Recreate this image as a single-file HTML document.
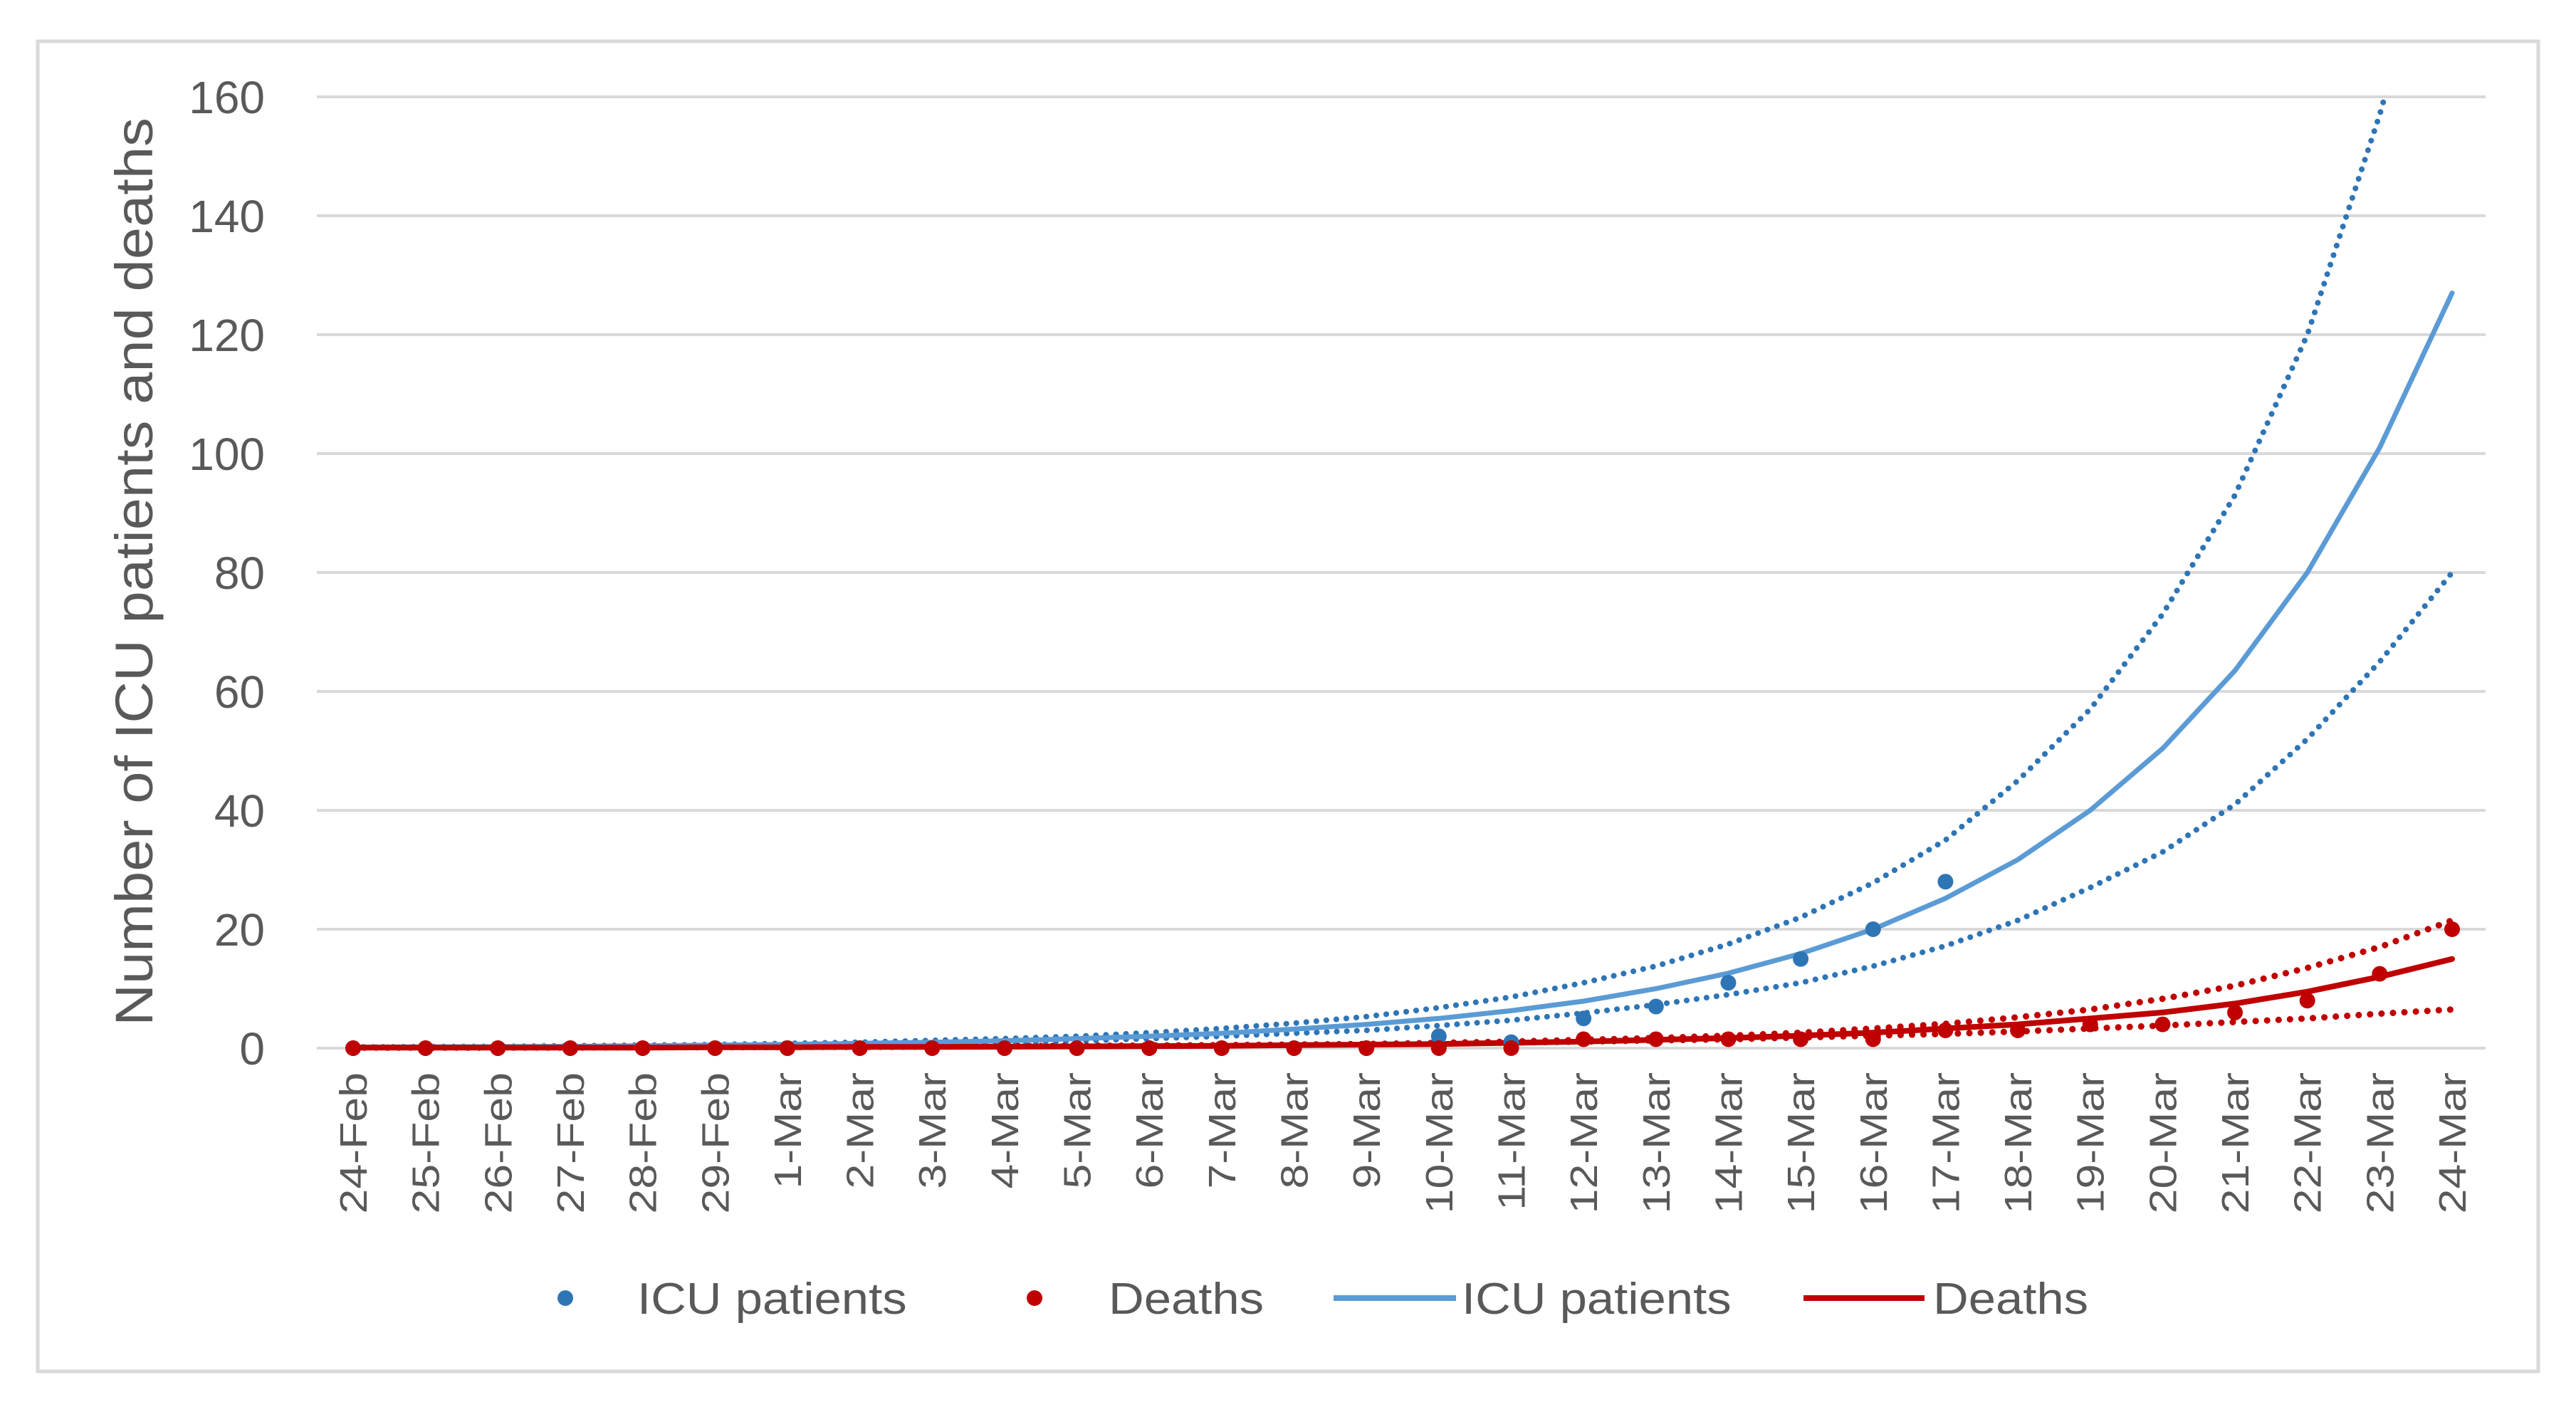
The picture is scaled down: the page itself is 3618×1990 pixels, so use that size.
<!DOCTYPE html>
<html><head><meta charset="utf-8"><style>
html,body{margin:0;padding:0;background:#fff;}
svg{display:block;font-family:"Liberation Sans",sans-serif;}
</style></head><body>
<svg id="chart" width="3618" height="1990" viewBox="0 0 3618 1990" xmlns="http://www.w3.org/2000/svg">
<rect x="53" y="58" width="3512" height="1868" fill="#fff" stroke="#D9D9D9" stroke-width="5"/>
<g id="grid"></g>
<g id="yticks"></g>
<g id="xticks"></g>
<defs><clipPath id="plotclip"><rect x="440" y="134" width="3060" height="1400"/></clipPath></defs>
<g id="series" clip-path="url(#plotclip)"></g>
<text transform="translate(214,803) rotate(-90) scale(1.10,1)" text-anchor="middle" font-size="74" fill="#595959">Number of ICU patients and deaths</text>
<g font-size="62" fill="#595959">
 <g><circle cx="794" cy="1823" r="11" fill="#2E75B6"/><text transform="translate(895,1845) scale(1.11,1)">ICU patients</text></g>
 <g><circle cx="1453" cy="1823" r="11" fill="#C00000"/><text transform="translate(1557,1845) scale(1.11,1)">Deaths</text></g>
 <g><line x1="1873" y1="1823" x2="2045" y2="1823" stroke="#5B9BD5" stroke-width="8"/><text transform="translate(2053,1845) scale(1.11,1)">ICU patients</text></g>
 <g><line x1="2533" y1="1823" x2="2703" y2="1823" stroke="#C00000" stroke-width="8"/><text transform="translate(2715,1845) scale(1.11,1)">Deaths</text></g>
</g>
</svg>
<script>
const categories = ["24-Feb","25-Feb","26-Feb","27-Feb","28-Feb","29-Feb","1-Mar","2-Mar","3-Mar","4-Mar","5-Mar","6-Mar","7-Mar","8-Mar","9-Mar","10-Mar","11-Mar","12-Mar","13-Mar","14-Mar","15-Mar","16-Mar","17-Mar","18-Mar","19-Mar","20-Mar","21-Mar","22-Mar","23-Mar","24-Mar"];
const yTicks = [0,20,40,60,80,100,120,140,160];
const icuPoints = [0,0,0,0,0,0,0,0,0,0,0,0,0,0,0,2,1,5,7,11,15,20,28,null,null,null,null,null,null,null];
const deathPoints = [0,0,0,0,0,0,0,0,0,0,0,0,0,0,0,0,0,1.5,1.5,1.5,1.5,1.5,3,3,4,4,6,8,12.5,20];
const icuFit = [0.16,0.2,0.25,0.3,0.4,0.5,0.63,0.8,1,1.25,1.6,2,2.5,3.2,4,5,6.3,7.9,10,12.6,15.9,20,25.2,31.7,40,50.4,63.5,80,101,127];
const icuUpper = [0.2,0.25,0.3,0.4,0.5,0.6,0.8,1,1.3,1.6,2,2.6,3.3,4.2,5.3,6.8,8.6,11,13.8,17.5,22,27.8,35,45,57,73,93,120,157,200];
const icuLower = [0.12,0.15,0.2,0.25,0.3,0.4,0.5,0.6,0.8,1,1.2,1.6,2,2.5,3,3.8,4.7,5.9,7.3,9,11,13.8,17.2,21.5,27,33,41,52,65,80];
const deathFit = [0.1,0.1,0.1,0.1,0.1,0.15,0.15,0.2,0.2,0.25,0.3,0.35,0.4,0.5,0.6,0.7,0.9,1.1,1.4,1.7,2.1,2.6,3.3,4,5,6,7.5,9.5,12,15];
const deathUpper = [0.1,0.1,0.1,0.1,0.15,0.15,0.2,0.2,0.25,0.3,0.35,0.4,0.5,0.6,0.7,0.9,1.1,1.4,1.7,2.1,2.6,3.3,4.1,5.2,6.5,8.3,10.5,13.5,17,21.5];
const deathLower = [0.1,0.1,0.1,0.15,0.15,0.2,0.2,0.25,0.3,0.35,0.4,0.45,0.5,0.6,0.7,0.8,0.95,1.1,1.3,1.5,1.8,2.1,2.4,2.8,3.3,3.8,4.4,5,5.8,6.5];

const NS="http://www.w3.org/2000/svg";
const X0=496, DX=(3444-496)/29, Y0=1472, YTOP=136, YMAX=160;
const xs=i=>X0+i*DX;
const ys=v=>Y0-(v/YMAX)*(Y0-YTOP);
function mk(tag,parent,attrs){const e=document.createElementNS(NS,tag);for(const k in attrs)e.setAttribute(k,attrs[k]);parent.appendChild(e);return e;}
const grid=document.getElementById('grid'), yt=document.getElementById('yticks'), xt=document.getElementById('xticks'), ser=document.getElementById('series');
yTicks.forEach(v=>{
  const l=mk('line',grid,{x1:445,x2:3491,y1:ys(v),y2:ys(v),stroke:'#D9D9D9','stroke-width':4});
  
  
  const t=mk('text',yt,{x:372,y:ys(v)+23,'text-anchor':'end','font-size':64,fill:'#595959'});
  t.textContent=String(v);
  
  
});
categories.forEach((c,i)=>{
  const t=mk('text',xt,{transform:`translate(${xs(i)+19},1506) rotate(-90) scale(1.16,1)`,'text-anchor':'end','font-size':54,fill:'#595959'});
  t.textContent=c;
  
  
});
function line(arr,color,w,dash,name){
  const d=arr.map((v,i)=>(i?'L':'M')+xs(i).toFixed(1)+' '+ys(v).toFixed(1)).join(' ');
  const p=mk('path',ser,{d:d,fill:'none',stroke:color,'stroke-width':w,'stroke-linecap':'round'});
  if(dash)p.setAttribute('stroke-dasharray',dash);
  
  
}
function dots(arr,color,name){
  arr.forEach((v,i)=>{
    if(v===null)return;
    const c=mk('circle',ser,{cx:xs(i),cy:ys(v),r:11,fill:color});
    
    
  });
}
line(icuUpper,'#2E75B6',8,'0.1 14','icu-upper-bound');
line(icuLower,'#2E75B6',8,'0.1 14','icu-lower-bound');
line(deathUpper,'#C00000',9,'0.1 16','deaths-upper-bound');
line(deathLower,'#C00000',9,'0.1 16','deaths-lower-bound');
line(icuFit,'#5B9BD5',7,null,'icu-fit-line');
line(deathFit,'#C00000',8,null,'deaths-fit-line');
dots(icuPoints,'#2E75B6','icu-point');
dots(deathPoints,'#C00000','death-point');
</script>
</body></html>
